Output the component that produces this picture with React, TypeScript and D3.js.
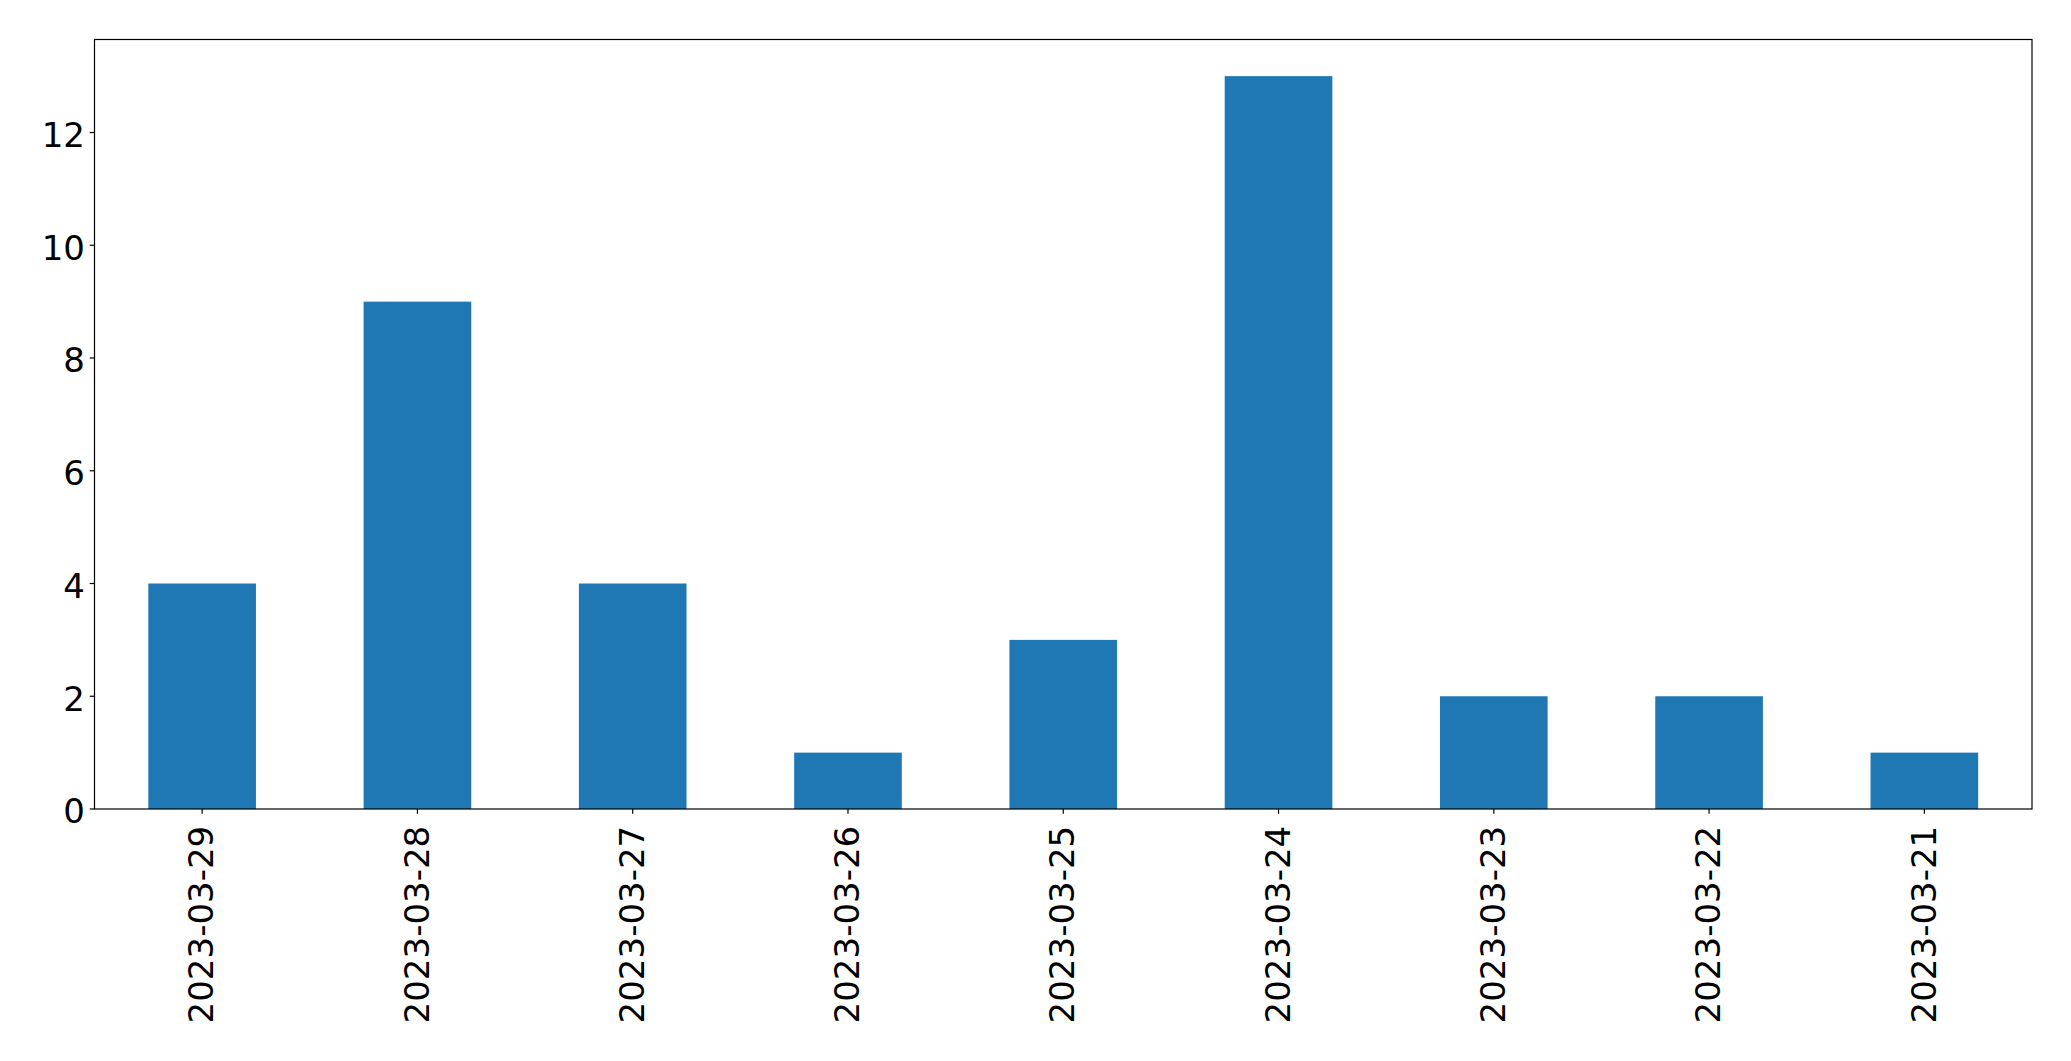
import React from "react";
import * as d3 from "d3";

const categories = ["2023-03-29", "2023-03-28", "2023-03-27", "2023-03-26", "2023-03-25", "2023-03-24", "2023-03-23", "2023-03-22", "2023-03-21"];
const values = [4, 9, 4, 1, 3, 13, 2, 2, 1];
const yTicks = [0, 2, 4, 6, 8, 10, 12];

const W = 2071;
const H = 1061;
const M = { left: 94.5, right: 2032, top: 39.5, bottom: 809 };
const FONT = "DejaVu Sans, sans-serif";
const FS = 34;

export default function App() {
  const x = d3.scaleLinear().domain([-0.5, categories.length - 0.5]).range([M.left, M.right]);
  const yMax = d3.max(values)! * 1.05;
  const y = d3.scaleLinear().domain([0, yMax]).range([M.bottom, M.top]);
  const barW = (x(1) - x(0)) * 0.5;
  const tick = 4.8;
  return (
    <svg width={W} height={H} style={{ position: "absolute", left: 0, top: 0, background: "#fff" }} fontFamily={FONT}>
      <rect x={0} y={0} width={W} height={H} fill="#fff" />
      {values.map((v, i) => (
        <rect key={i} x={x(i) - barW / 2} y={y(v)} width={barW} height={y(0) - y(v)} fill="#1f77b4" />
      ))}
      <rect x={M.left} y={M.top} width={M.right - M.left} height={M.bottom - M.top} fill="none" stroke="#000" strokeWidth={1.2} />
      {yTicks.map((t) => (
        <g key={t}>
          <line x1={M.left - tick} x2={M.left} y1={y(t)} y2={y(t)} stroke="#000" strokeWidth={1.2} />
          <text x={M.left - tick - 4.8} y={y(t)} dy="0.42em" textAnchor="end" fontSize={FS} fill="#000">{t}</text>
        </g>
      ))}
      {categories.map((c, i) => (
        <g key={c}>
          <line x1={x(i)} x2={x(i)} y1={M.bottom} y2={M.bottom + tick} stroke="#000" strokeWidth={1.2} />
          <text transform={`translate(${x(i)},${M.bottom + tick + 12}) rotate(-90)`} dy="0.33em" textAnchor="end" fontSize={FS} fill="#000">{c}</text>
        </g>
      ))}
    </svg>
  );
}
